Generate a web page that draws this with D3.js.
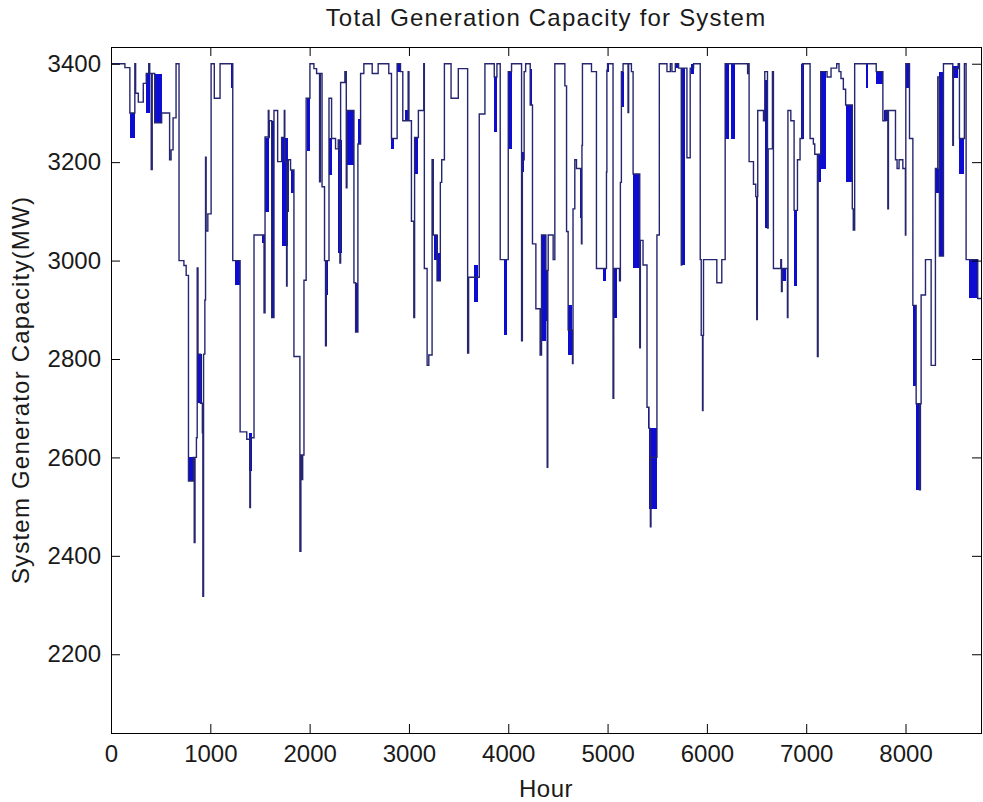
<!DOCTYPE html>
<html>
<head>
<meta charset="utf-8">
<script src="https://cdn.jsdelivr.net/npm/d3@7"></script>
<style>
  html, body { margin: 0; padding: 0; background: #fff; }
  svg { display: block; font-family: "Liberation Sans", Arial, sans-serif; }
</style>
</head>
<body>
<svg id="chart" width="983" height="802"></svg>
<script>
// Hourly capacity, as step breakpoints [hour, MW] (value holds until next hour listed)
const steps = [
  [0,3400],[140,3392],[190,3300],[240,3400],[248,3340],[275,3322],[325,3360],[355,3380],[380,3400],[390,3380],
  [405,3185],[415,3380],[440,3280],[510,3300],[590,3205],[605,3225],[625,3290],[655,3400],[685,3000],[734,2990],
  [757,2970],[780,2552],[830,2600],[838,2427],[846,2600],[860,2640],[868,2985],[876,2810],[900,2710],[920,2650],
  [925,2318],[932,2810],[945,2920],[952,3210],[958,3060],[975,3095],[1008,3400],[1040,3330],[1098,3400],
  [1226,3000],[1300,2652],[1367,2637],[1398,2498],[1404,2640],[1440,3052],[1541,2894],[1551,3251],[1584,3305],
  [1590,3250],[1594,3284],[1618,2884],[1641,3305],[1678,3201],[1718,3250],[1745,3305],[1750,3200],[1768,2948],
  [1773,3100],[1785,3205],[1808,3184],[1842,2805],[1902,2409],[1912,2605],[1922,2555],[1930,2605],[1943,2960],
  [1965,3330],[2003,3400],[2043,3390],[2070,3380],[2100,3160],[2108,3380],[2125,3150],[2150,3000],[2160,2827],
  [2168,3000],[2195,3330],[2221,3248],[2261,3227],[2288,3245],[2305,2995],[2312,3362],[2355,3384],[2369,3148],
  [2376,3305],[2446,2955],[2463,2855],[2486,3237],[2513,3380],[2546,3400],[2630,3380],[2690,3400],[2797,3380],
  [2824,3248],[2881,3400],[2915,3384],[2938,3284],[2992,3384],[3000,3284],[3025,3080],[3049,2884],[3057,3250],
  [3095,3305],[3149,3400],[3155,2984],[3183,2787],[3200,2808],[3233,3205],[3245,3052],
  [3283,2959],[3316,3159],[3330,3205],[3357,3400],[3424,3330],[3497,3390],[3591,2812],[3601,2966],[3708,3298],
  [3765,3400],[3859,3373],[3886,3400],[3919,3002],[4000,3384],[4033,3400],[4134,2837],[4142,3205],[4160,3384],
  [4175,3400],[4221,3316],[4244,3034],[4278,2902],[4321,2808],[4335,3052],[4379,2980],[4392,2580],[4398,2980],
  [4402,3052],[4452,3002],[4469,3400],[4570,3355],[4587,3059],[4603,2859],[4647,2791],[4652,3105],[4670,3205],
  [4687,3187],[4737,3034],[4742,3234],[4747,3400],[4838,3384],[4888,2984],[4989,3180],[4993,3387],[5000,3400],
  [5055,2720],[5062,2984],[5120,2959],[5129,3159],[5139,3384],[5156,3400],[5206,3301],[5212,3400],[5240,3384],
  [5257,3176],[5324,2823],[5330,3041],[5357,2991],[5397,2702],[5417,2659],[5431,2459],[5437,2600],[5497,3052],
  [5521,3400],[5598,3384],[5632,3400],[5648,3384],[5682,3400],[5715,3391],[5742,2991],[5747,3391],[5799,3209],
  [5832,3391],[5866,3400],[5933,3002],[5943,2848],[5956,2695],[5961,2848],[5966,3002],[6100,2955],[6150,3002],
  [6184,3400],[6410,3380],[6419,3400],[6425,3201],[6469,3155],[6492,3130],[6502,2880],[6508,3130],[6512,3305],
  [6570,3284],[6583,3384],[6610,3066],[6617,3227],[6660,3384],[6670,2984],[6744,3002],[6751,2937],[6758,2984],
  [6811,2884],[6816,3305],[6845,3284],[6878,3102],[6912,3205],[6938,3248],[6962,3400],[7039,3248],[7072,3237],
  [7086,3216],[7113,2805],[7120,3216],[7146,3384],[7210,3373],[7250,3391],[7307,3400],[7330,3384],[7350,3370],
  [7374,3348],[7397,3316],[7464,3105],[7474,3062],[7488,3400],[7705,3384],[7772,3284],[7800,3305],[7822,3105],
  [7828,3305],[7899,3205],[7915,3187],[7935,3205],[7973,3187],[7999,3052],[8003,3400],[8040,3248],[8074,2909],
  [8107,2709],[8140,2534],[8150,2709],[8157,2930],[8201,3002],[8258,2787],[8301,3187],[8325,3373],[8341,3009],
  [8382,3400],[8476,3234],[8482,3390],[8530,3400],[8543,3248],[8593,3400],[8610,3002],[8727,2923],[8760,2923]
];

// Stretches where the hourly value toggles every hour between two levels: [from, to, low, high]
const flicker = [
  [195,240,3250,3300],[355,395,3300,3380],[440,510,3280,3380],[780,824,2552,2600],[870,920,2710,2810],
  [1205,1226,3350,3400],[1249,1300,2950,3000],[1390,1415,2573,2650],[1524,1541,3035,3052],[1551,1594,3098,3250],
  [1618,1641,2884,3284],[1718,1785,3030,3250],[1815,1842,3137,3184],[1970,2000,3223,3330],[2150,2187,2930,3000],
  [2195,2221,3173,3250],[2288,2322,3015,3245],[2379,2446,3194,3305],[2463,2486,2855,2955],[2486,2513,3237,3287],
  [2815,2850,3227,3248],[2881,2910,3384,3400],[2962,2990,3284,3305],[3065,3095,3176,3250],
  [3256,3290,3002,3052],[3283,3316,2959,3016],[3651,3692,2916,2991],[3859,3886,3262,3373],[3960,3983,2848,3002],
  [4000,4033,3227,3384],[4142,4160,3180,3220],[4221,4244,3316,3390],[4335,4378,2837,3052],[4379,4402,2877,2980],
  [4603,4637,2809,2909],[4720,4737,3087,3187],[4955,4989,2959,2984],[4995,5015,3384,3400],[5062,5096,2884,2984],
  [5139,5163,3312,3384],[5257,5324,2984,3176],[5405,5417,2659,2702],[5417,5497,2495,2659],[5682,5715,3391,3400],
  [5742,5775,2991,3391],[5842,5866,3380,3400],[6184,6218,3248,3400],[6244,6278,3248,3400],[6492,6512,2902,3130],
  [6583,6617,3066,3366],[6758,6794,2959,2984],[6878,6912,2948,3102],[6952,6979,3248,3400],[7113,7146,3159,3216],
  [7146,7196,3187,3384],[7397,7464,3159,3316],[7598,7622,3351,3400],[7705,7772,3359,3384],[7779,7822,3284,3305],
  [8003,8040,3351,3400],[8074,8107,2745,2909],[8107,8157,2534,2709],[8308,8341,3137,3187],[8341,8382,3009,3384],
  [8469,8526,3370,3395],[8543,8593,3176,3248],[8643,8727,2923,3002]
];

const xTicks = [0, 1000, 2000, 3000, 4000, 5000, 6000, 7000, 8000];
const yTicks = [2200, 2400, 2600, 2800, 3000, 3200, 3400];
const hourRange = [0, 8760];
const mwRange = [2040, 3434];

const title = "Total Generation Capacity for System";
const xLabel = "Hour";
const yLabel = "System Generator Capacity(MW)";

//// Setup
const margin = { top: 47, right: 2, bottom: 69, left: 111 };
const svg = d3.select("#chart");
const width = +svg.attr("width") - margin.left - margin.right;
const height = +svg.attr("height") - margin.top - margin.bottom;
const lineColor = "#262670";
const fillColor = "#0c0cd2";
const textColor = "#1a1a1a";
const tickLen = 9;
const fontSize = 24;

const x = d3.scaleLinear().domain(hourRange).range([0, width]);
const y = d3.scaleLinear().domain(mwRange).range([height, 0]);

const g = svg.append("g").attr("transform", `translate(${margin.left},${margin.top})`);

// Dense blocks first, step line on top
g.append("g")
  .attr("class", "flicker")
  .selectAll("rect")
  .data(flicker)
  .join("rect")
  .attr("x", d => x(d[0]))
  .attr("width", d => Math.max(1, x(d[1]) - x(d[0])))
  .attr("y", d => y(d[3]))
  .attr("height", d => y(d[2]) - y(d[3]))
  .attr("fill", fillColor)
  .attr("shape-rendering", "crispEdges");

const line = d3.line()
  .x(d => x(d[0]))
  .y(d => y(d[1]))
  .curve(d3.curveStepAfter);

g.append("path")
  .datum(steps)
  .attr("fill", "none")
  .attr("stroke", lineColor)
  .attr("stroke-width", 1.4)
  .attr("d", line);

// Axes (ticks inward, mirrored on top/right like a boxed plot)
const styleAxis = a => {
  a.select(".domain").remove();
  a.selectAll(".tick line").attr("stroke", "#000");
  a.selectAll(".tick text").attr("fill", textColor).style("font-size", fontSize + "px");
};

g.append("g")
  .attr("transform", `translate(0,${height})`)
  .call(d3.axisBottom(x).tickValues(xTicks).tickFormat(d3.format("d")).tickSizeInner(-tickLen).tickSizeOuter(0).tickPadding(12))
  .call(styleAxis);

g.append("g")
  .call(d3.axisLeft(y).tickValues(yTicks).tickFormat(d3.format("d")).tickSizeInner(-tickLen).tickSizeOuter(0).tickPadding(10))
  .call(styleAxis);

g.append("g")
  .call(d3.axisTop(x).tickValues(xTicks).tickFormat("").tickSizeInner(-tickLen).tickSizeOuter(0))
  .call(styleAxis);

g.append("g")
  .attr("transform", `translate(${width},0)`)
  .call(d3.axisRight(y).tickValues(yTicks).tickFormat("").tickSizeInner(-tickLen).tickSizeOuter(0))
  .call(styleAxis);

// Box
g.append("rect")
  .attr("width", width)
  .attr("height", height)
  .attr("fill", "none")
  .attr("stroke", "#000")
  .attr("stroke-width", 1)
  .attr("shape-rendering", "crispEdges");

// Labels
svg.append("text")
  .attr("x", margin.left + width / 2)
  .attr("y", 26)
  .attr("text-anchor", "middle")
  .attr("fill", textColor)
  .style("font-size", fontSize + "px")
  .style("letter-spacing", "1.2px")
  .text(title);

svg.append("text")
  .attr("x", margin.left + width / 2)
  .attr("y", 797)
  .attr("text-anchor", "middle")
  .attr("fill", textColor)
  .style("font-size", fontSize + "px")
  .style("letter-spacing", "0.5px")
  .text(xLabel);

svg.append("text")
  .attr("transform", `translate(29,${margin.top + height / 2}) rotate(-90)`)
  .attr("text-anchor", "middle")
  .attr("fill", textColor)
  .style("font-size", fontSize + "px")
  .style("letter-spacing", "1.2px")
  .text(yLabel);
</script>
</body>
</html>
